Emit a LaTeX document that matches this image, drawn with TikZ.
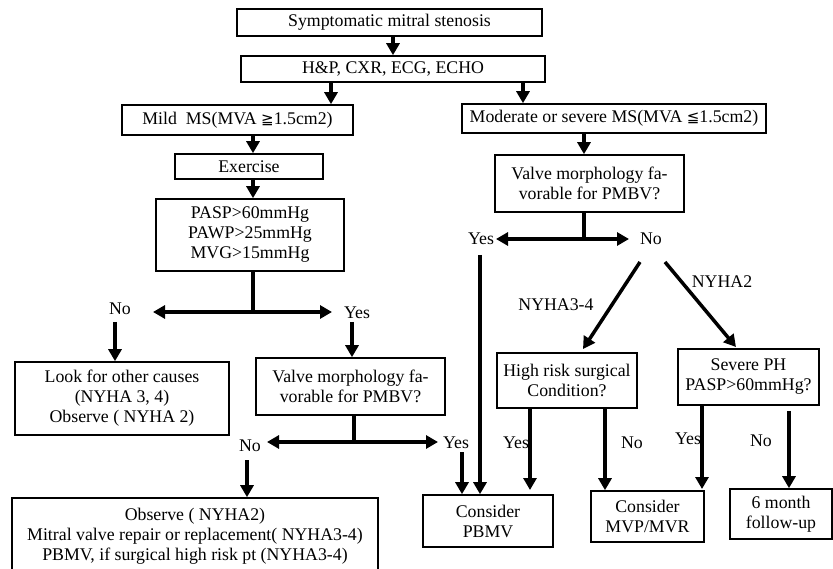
\documentclass[tikz,border=0pt]{standalone}
\usepackage{fontspec}
\setmainfont{Liberation Serif}
\newfontfamily\symfnt{DejaVu Sans}
\usetikzlibrary{arrows.meta}
\tikzset{
  box/.style={draw, line width=1.6pt, inner sep=0pt, align=center, font=\fontsize{17.8}{20}\selectfont},
  lbl/.style={inner sep=0pt, font=\fontsize{17.8}{20}\selectfont},
  arr/.style={line width=3.5pt, -{Triangle[length=12pt,width=13pt]}},
  ln/.style={line width=3.5pt},
}
\begin{document}
\begin{tikzpicture}[x=1pt,y=-1pt]
\useasboundingbox (0,0) rectangle (833,569);
\clip (0,0) rectangle (833,569);
% boxes
\node[box, minimum width=305pt, minimum height=27pt] (b1) at (389.5,22.5) {Symptomatic mitral stenosis};
\node[box, minimum width=304pt, minimum height=26pt] (b2) at (393,69) {H\&P, CXR, ECG, ECHO};
\node[box, minimum width=231pt, minimum height=30pt] (mild) at (237.5,120) {Mild\ \ MS(MVA {\symfnt\fontsize{15}{20}\selectfont ≧}1.5cm2)};
\node[box, minimum width=304pt, minimum height=29pt] (mod) at (614,118.5) {Moderate or severe MS(MVA {\symfnt\fontsize{15}{20}\selectfont ≦}1.5cm2)};
\node[box, minimum width=148pt, minimum height=25pt] (ex) at (249,166.5) {Exercise};
\node[box, minimum width=188pt, minimum height=72pt] (pasp) at (250,235) {PASP>60mmHg\\PAWP>25mmHg\\MVG>15mmHg};
\node[box, minimum width=189pt, minimum height=57pt] (v1) at (589.5,183.5) {Valve morphology fa-\\vorable for PMBV?};
\node[box, minimum width=214pt, minimum height=73pt] (look) at (122,398.5) {Look for other causes\\(NYHA 3, 4)\\Observe ( NYHA 2)};
\node[box, minimum width=189pt, minimum height=57pt] (v2) at (350.5,386.5) {Valve morphology fa-\\vorable for PMBV?};
\node[box, minimum width=366pt, minimum height=77pt] (bot) at (195,536.5) {Observe ( NYHA2)\\Mitral valve repair or replacement( NYHA3-4)\\PBMV, if surgical high risk pt (NYHA3-4)};
\node[box, minimum width=140pt, minimum height=55pt] (hr) at (567,380.5) {High risk surgical\\Condition?};
\node[box, minimum width=141pt, minimum height=56pt] (sev) at (748.5,377) {Severe PH\\PASP>60mmHg?};
\node[box, minimum width=130pt, minimum height=52pt] (pbmv) at (488,521) {Consider\\PBMV};
\node[box, minimum width=113pt, minimum height=51pt] (mvp) at (647.5,516.5) {Consider\\MVP/MVR};
\node[box, minimum width=102pt, minimum height=50pt] (six) at (781,514) {6 month\\follow-up};
% labels
\node[lbl] (yes1) at (481,239) {Yes};
\node[lbl] (no1) at (651,239) {No};
\node[lbl] (ny2) at (722,282) {NYHA2};
\node[lbl] (ny34) at (556,305) {NYHA3-4};
\node[lbl] (no2) at (120,309) {No};
\node[lbl] (yes2) at (357,313) {Yes};
\node[lbl] (no3) at (250,446) {No};
\node[lbl] (yes3) at (456,443) {Yes};
\node[lbl] (yes4) at (516,443) {Yes};
\node[lbl] (no4) at (632,443) {No};
\node[lbl] (yes5) at (688,439) {Yes};
\node[lbl] (no5) at (761,441) {No};
% junctions and free ends
\coordinate (j1) at (253,312);
\coordinate (t1l) at (153,312);
\coordinate (t1r) at (332,312);
\coordinate (j2) at (354,442);
\coordinate (t2l) at (267,442);
\coordinate (t2r) at (438,442);
\coordinate (j3) at (584,239);
\coordinate (t3l) at (496,239);
\coordinate (t3r) at (629,239);
\coordinate (s2) at (115,322);
\coordinate (s3) at (352,322);
\coordinate (s4) at (247,460);
\coordinate (s5) at (462,452);
\coordinate (s6) at (480,255);
\coordinate (d1a) at (640,262);
\coordinate (d1b) at (583,349);
\coordinate (d2a) at (665,262);
\coordinate (d2b) at (736,347);
\coordinate (e1) at (530,490);
\coordinate (e2) at (702,489);
% connectors
\draw[arr] (b1.south -| 393,0) -- (b2.north -| 393,0);
\draw[arr] (b2.south -| 331,0) -- (mild.north -| 331,0);
\draw[arr] (b2.south -| 523,0) -- (mod.north -| 523,0);
\draw[arr] (mild.south -| 253,0) -- (ex.north -| 253,0);
\draw[arr] (ex.south -| 253,0) -- (pasp.north -| 253,0);
\draw[ln] (pasp.south -| j1) -- (j1);
\draw[arr] (j1) -- (t1l);
\draw[arr] (j1) -- (t1r);
\draw[arr] (s2) -- (look.north -| s2);
\draw[arr] (s3) -- (v2.north -| s3);
\draw[ln] (v2.south -| j2) -- (j2);
\draw[arr] (j2) -- (t2l);
\draw[arr] (j2) -- (t2r);
\draw[arr] (s4) -- (bot.north -| s4);
\draw[arr] (s5) -- (pbmv.north -| s5);
\draw[arr] (mod.south -| j3) -- (v1.north -| j3);
\draw[ln] (v1.south -| j3) -- (j3);
\draw[arr] (j3) -- (t3l);
\draw[arr] (j3) -- (t3r);
\draw[arr] (s6) -- (pbmv.north -| s6);
\draw[arr] (d1a) -- (d1b);
\draw[arr] (d2a) -- (d2b);
\draw[arr] (hr.south -| e1) -- (e1);
\draw[arr] (hr.south -| 605,0) -- (mvp.north -| 605,0);
\draw[arr] (sev.south -| e2) -- (e2);
\draw[arr] ([yshift=-5pt]sev.south -| 789,0) -- (six.north -| 789,0);
\end{tikzpicture}
\end{document}
